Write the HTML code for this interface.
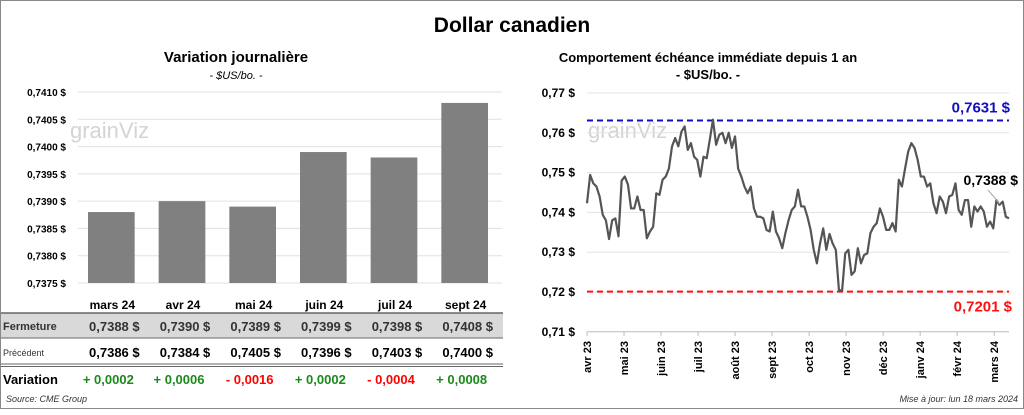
<!DOCTYPE html>
<html><head><meta charset="utf-8"><style>
body{margin:0;width:1024px;height:410px;overflow:hidden;background:#fff;font-family:"Liberation Sans",sans-serif}
svg text{font-family:"Liberation Sans",sans-serif}
</style></head><body>
<svg id="s" width="1024" height="410">
<rect x="0.5" y="0.5" width="1023" height="408" fill="#fff" stroke="#888"/>
<text x="512" y="32" text-anchor="middle" font-size="21" font-weight="bold">Dollar canadien</text>
<text x="236" y="62" text-anchor="middle" font-size="15" font-weight="bold">Variation  journalière</text>
<text x="236" y="79" text-anchor="middle" font-size="11" font-style="italic">- $US/bo. -</text>
<text x="708" y="62" text-anchor="middle" font-size="13" font-weight="bold">Comportement échéance immédiate depuis 1 an</text>
<text x="708" y="79" text-anchor="middle" font-size="13" font-weight="bold">- $US/bo. -</text>
<text x="70" y="138" font-size="22" fill="#d4d4d4">grainViz</text>
<text x="588" y="138" font-size="22" fill="#d4d4d4">grainViz</text>
<g id="left"></g><g id="table"></g><g id="right"></g>
<text x="6" y="402" font-size="9" font-style="italic" fill="#333">Source: CME Group</text>
<text x="1018" y="402" text-anchor="end" font-size="9" font-style="italic" fill="#333">Mise à jour: lun 18 mars 2024</text>
</svg>
<script>
const barCats=["mars 24","avr 24","mai 24","juin 24","juil 24","sept 24"];
const closeVals=[0.7388,0.7390,0.7389,0.7399,0.7398,0.7408];
const prevVals=[0.7386,0.7384,0.7405,0.7396,0.7403,0.7400];
const varVals=[0.0002,0.0006,-0.0016,0.0002,-0.0004,0.0008];
const barTicks=[0.7375,0.7380,0.7385,0.7390,0.7395,0.7400,0.7405,0.7410];
const lineVals=[0.7423,0.7494,0.7473,0.7465,0.744,0.7394,0.738,0.7333,0.738,0.7385,0.734,0.748,0.749,0.747,0.741,0.741,0.744,0.7406,0.7406,0.7335,0.7352,0.7364,0.7448,0.7444,0.7482,0.749,0.751,0.7566,0.7587,0.7566,0.7603,0.7616,0.7557,0.7574,0.754,0.7532,0.749,0.754,0.7536,0.7583,0.7633,0.757,0.7595,0.76,0.7574,0.76,0.7562,0.7591,0.751,0.749,0.7465,0.7448,0.7465,0.741,0.7389,0.7389,0.7385,0.7356,0.7352,0.7402,0.7352,0.7335,0.731,0.7348,0.738,0.7406,0.7415,0.7457,0.7415,0.7415,0.7389,0.7356,0.7306,0.7272,0.7322,0.736,0.7306,0.7346,0.7322,0.7306,0.7205,0.7203,0.7297,0.7306,0.7243,0.7252,0.731,0.7272,0.7293,0.7297,0.7348,0.7364,0.7373,0.741,0.7389,0.7356,0.7356,0.7373,0.7352,0.7482,0.7465,0.751,0.7553,0.7574,0.7562,0.7532,0.749,0.749,0.7465,0.7473,0.7423,0.7398,0.744,0.7427,0.7398,0.744,0.7444,0.7473,0.7406,0.7394,0.7431,0.7431,0.7364,0.7415,0.7402,0.7415,0.7402,0.7364,0.7377,0.736,0.7431,0.7419,0.7427,0.7389,0.7385];
const lineTicks=[0.71,0.72,0.73,0.74,0.75,0.76,0.77];
const months=["avr 23","mai 23","juin 23","juil 23","août 23","sept 23","oct 23","nov 23","déc 23","janv 24","févr 24","mars 24"];
const maxVal=0.7631, minVal=0.7201, lastVal=0.7388;
const NS="http://www.w3.org/2000/svg";
function mk(p,t,a,txt){const e=document.createElementNS(NS,t);for(const k in a)e.setAttribute(k,a[k]);if(txt!=null)e.textContent=txt;p.appendChild(e);return e;}
const fmt=(v,d)=>v.toFixed(d).replace('.',',');
const L=document.getElementById('left');
const ly=v=>92+(0.7410-v)/0.0035*191, lx0=78,lx1=502,bw=(lx1-lx0)/barCats.length;
barTicks.forEach(t=>{const g=mk(L,'line',{x1:lx0,x2:lx1,y1:ly(t),y2:ly(t),stroke:'#e0e0e0'});

const tx=mk(L,'text',{x:66,y:ly(t)+4,'text-anchor':'end','font-size':10,'font-weight':'bold'},fmt(t,4)+' $');
});
closeVals.forEach((v,i)=>{const r=mk(L,'rect',{x:lx0+i*bw+10,y:ly(v),width:bw-24,height:ly(0.7375)-ly(v),fill:'#808080'});
});
const T=document.getElementById('table');
const cx=i=>lx0+i*bw+bw/2-1;
mk(T,'rect',{x:1,y:313,width:502,height:25,fill:'#d9d9d9'});
mk(T,'line',{x1:1,x2:503,y1:313,y2:313,stroke:'#666','stroke-width':1.5});
mk(T,'line',{x1:1,x2:503,y1:338,y2:338,stroke:'#666'});
mk(T,'line',{x1:1,x2:503,y1:364,y2:364,stroke:'#666'});
mk(T,'line',{x1:1,x2:503,y1:366.5,y2:366.5,stroke:'#666'});
mk(T,'text',{x:3,y:330,'font-size':11,'font-weight':'bold',fill:'#333'},'Fermeture');
mk(T,'text',{x:3,y:356,'font-size':9,fill:'#333'},'Précédent');
mk(T,'text',{x:3,y:384,'font-size':13,'font-weight':'bold'},'Variation');
barCats.forEach((c,i)=>{
 const h=mk(T,'text',{x:cx(i),y:309,'text-anchor':'middle','font-size':12,'font-weight':'bold'},c);
 
 const a=mk(T,'text',{x:cx(i)+2,y:331,'text-anchor':'middle','font-size':13,'font-weight':'bold',fill:'#333'},fmt(closeVals[i],4)+'  $');
 
 const b=mk(T,'text',{x:cx(i)+2,y:357,'text-anchor':'middle','font-size':13,'font-weight':'bold'},fmt(prevVals[i],4)+'  $');
 
 const d=varVals[i];
 const e=mk(T,'text',{x:cx(i)-4,y:384,'text-anchor':'middle','font-size':13,'font-weight':'bold',fill:d>=0?'#1a8a1a':'#ff0000'},(d>=0?'+ ':'- ')+fmt(Math.abs(d),4));
 
});
const R=document.getElementById('right');
const rx0=587,rx1=1009,ry=v=>93+(0.77-v)/0.01*39.8;
lineTicks.forEach(t=>{const g=mk(R,'line',{x1:rx0,x2:rx1,y1:ry(t),y2:ry(t),stroke:t==0.71?'#bbb':'#e3e3e3'});

const tx=mk(R,'text',{x:575,y:ry(t)+4,'text-anchor':'end','font-size':12,'font-weight':'bold'},fmt(t,2)+' $');
});
const mw=(rx1-rx0)/(months.length-0.6);
months.forEach((m,i)=>{const x=rx0+i*mw;
 mk(R,'line',{x1:x,x2:x,y1:332,y2:336,stroke:'#bbb'});
 const t=mk(R,'text',{x:0,y:0,'text-anchor':'end','font-size':11,'font-weight':'bold',transform:`translate(${x+4},341) rotate(-90)`},m);
 });
const ml=mk(R,'line',{x1:rx0,x2:rx1,y1:ry(maxVal),y2:ry(maxVal),stroke:'#1010c0','stroke-width':2,'stroke-dasharray':'6,4'});

const nl=mk(R,'line',{x1:rx0,x2:rx1,y1:ry(minVal),y2:ry(minVal),stroke:'#ff1010','stroke-width':2,'stroke-dasharray':'6,4'});

const n=lineVals.length,px=i=>rx0+(rx1-rx0)*i/(n-1);
const pl=mk(R,'polyline',{points:lineVals.map((v,i)=>px(i)+','+ry(v)).join(' '),fill:'none',stroke:'#555','stroke-width':2.2,'stroke-linejoin':'round'});

const a=mk(R,'text',{x:1010,y:ry(maxVal)-8,'text-anchor':'end','font-size':15,'font-weight':'bold',fill:'#1010c0'},fmt(maxVal,4)+' $');

const b=mk(R,'text',{x:1012,y:ry(minVal)+20,'text-anchor':'end','font-size':15,'font-weight':'bold',fill:'#ff1010'},fmt(minVal,4)+' $');

mk(R,'line',{x1:988,y1:190,x2:1000,y2:204,stroke:'#aaa'});
const c=mk(R,'text',{x:1018,y:185,'text-anchor':'end','font-size':14,'font-weight':'bold'},fmt(lastVal,4)+' $');

</script>
</body></html>
